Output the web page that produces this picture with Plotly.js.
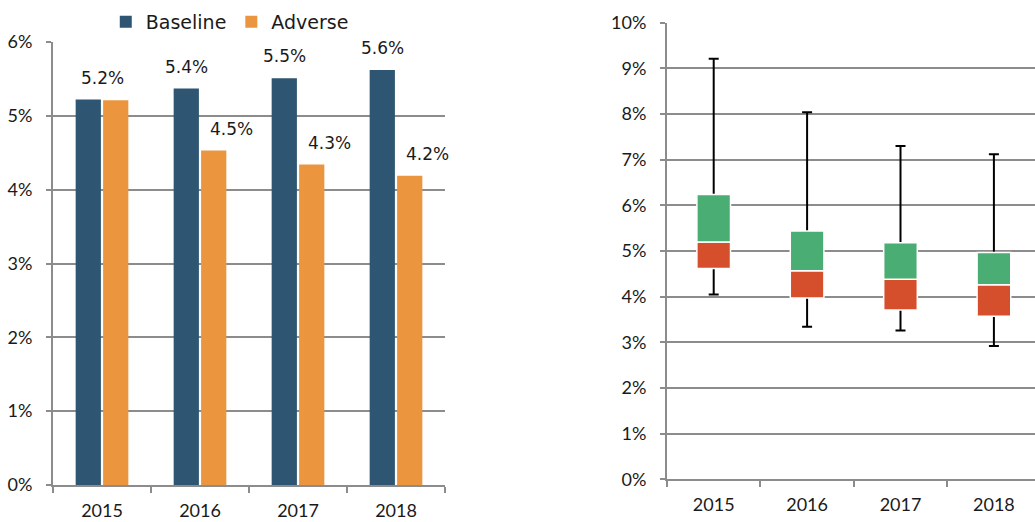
<!DOCTYPE html>
<html>
<head>
<meta charset="utf-8">
<script src="https://cdn.plot.ly/plotly-3.0.1.min.js"></script>
<style>
  html, body { margin: 0; padding: 0; background: #fff; overflow: hidden; }
  #chart { width: 1035px; height: 522px; }
</style>
</head>
<body>
<div id="chart"></div>
<script>
// categories
const years = ['2015', '2016', '2017', '2018'];

// left panel: rate by scenario (%)
const baseline = [5.22, 5.37, 5.51, 5.62];
const adverse = [5.21, 4.53, 4.34, 4.19];

// right panel: distribution (min / lower / median / upper / max, %)
const boxMin = [4.05, 3.34, 3.26, 2.92];
const boxLow = [4.62, 3.97, 3.71, 3.57];
const boxMid = [5.20, 4.57, 4.38, 4.26];
const boxHigh = [6.24, 5.44, 5.18, 4.97];
const boxMax = [9.21, 8.04, 7.30, 7.12];

const colors = {
  baseline: '#2E5571',
  adverse: '#EB963E',
  upper: '#4AAD74',
  lower: '#D64F2D',
  grid: '#8C8C8C',
  text: '#1A1A1A'
};

const tickFont = { family: 'Lato, "Liberation Sans", sans-serif', size: 18, color: colors.text };
const labelFont = { family: '"DejaVu Sans", sans-serif', size: 17, color: colors.text };

const traces = [
  {
    type: 'bar', name: 'Baseline', x: years, y: baseline,
    marker: { color: colors.baseline },
    xaxis: 'x', yaxis: 'y', hoverinfo: 'none'
  },
  {
    type: 'bar', name: 'Adverse', x: years, y: adverse,
    marker: { color: colors.adverse },
    xaxis: 'x', yaxis: 'y', hoverinfo: 'none'
  },
  // whiskers: transparent bar up to the upper box edge, error bars to min / max
  {
    type: 'bar', x: years, y: boxHigh,
    width: 0.36, offset: -0.18,
    marker: { color: 'rgba(0,0,0,0)' },
    error_y: {
      type: 'data', symmetric: false,
      array: boxHigh.map((v, i) => boxMax[i] - v),
      arrayminus: boxHigh.map((v, i) => v - boxMin[i]),
      color: '#000', thickness: 2, width: 5
    },
    xaxis: 'x2', yaxis: 'y2', showlegend: false, hoverinfo: 'none'
  },
  {
    type: 'bar', x: years, base: boxLow,
    y: boxMid.map((v, i) => v - boxLow[i]),
    width: 0.36, offset: -0.18,
    marker: { color: colors.lower, line: { color: '#fff', width: 1.5 } },
    xaxis: 'x2', yaxis: 'y2', showlegend: false, hoverinfo: 'none'
  },
  {
    type: 'bar', x: years, base: boxMid,
    y: boxHigh.map((v, i) => v - boxMid[i]),
    width: 0.36, offset: -0.18,
    marker: { color: colors.upper, line: { color: '#fff', width: 1.5 } },
    xaxis: 'x2', yaxis: 'y2', showlegend: false, hoverinfo: 'none'
  }
];

// data labels above the left bars (x as category index, the year strings look numeric)
const annotations = [];
years.forEach((yr, i) => {
  const base = { x: i, xref: 'x', yref: 'y', showarrow: false, yshift: 22, yanchor: 'middle', font: labelFont };
  if (Math.abs(baseline[i] - adverse[i]) < 0.05) {
    annotations.push({ ...base, y: baseline[i], text: baseline[i].toFixed(1) + '%' });
  } else {
    annotations.push({ ...base, y: baseline[i], xshift: -14, text: baseline[i].toFixed(1) + '%' });
    annotations.push({ ...base, y: adverse[i], xshift: 31, text: adverse[i].toFixed(1) + '%' });
  }
});

const xCommon = {
  type: 'category',
  showline: true, linecolor: colors.grid, linewidth: 2,
  ticks: 'outside', ticklen: 6, tickwidth: 2, tickcolor: colors.grid,
  tickson: 'boundaries',
  showgrid: false, zeroline: false,
  tickfont: tickFont, ticklabelstandoff: 8,
  fixedrange: true
};

const yCommon = {
  showline: true, linecolor: colors.grid, linewidth: 2,
  ticks: 'outside', ticklen: 5, tickwidth: 2, tickcolor: colors.grid,
  showgrid: true, gridcolor: colors.grid, gridwidth: 2,
  zeroline: false, dtick: 1, ticksuffix: '%',
  tickfont: tickFont, ticklabelstandoff: 10,
  fixedrange: true
};

const layout = {
  width: 1035, height: 522,
  margin: { l: 0, r: 0, t: 0, b: 0 },
  paper_bgcolor: '#fff', plot_bgcolor: 'rgba(0,0,0,0)',
  barmode: 'group', bargap: 0.44, bargroupgap: 0.08,
  showlegend: true,
  legend: {
    orientation: 'h', x: 0.222, xanchor: 'center', y: 0.958, yanchor: 'middle',
    font: { family: '"DejaVu Sans", sans-serif', size: 19, color: colors.text },
    itemclick: false, itemdoubleclick: false, traceorder: 'normal'
  },
  xaxis: { ...xCommon, domain: [53 / 1035, 445 / 1035], range: [-0.5, 3.5] },
  yaxis: { ...yCommon, domain: [37 / 522, 480 / 522], range: [0, 6], anchor: 'x' },
  xaxis2: { ...xCommon, domain: [667 / 1035, 1], range: [-0.5, 3.44], anchor: 'y2' },
  yaxis2: { ...yCommon, domain: [42.7 / 522, 499.2 / 522], range: [0, 10], anchor: 'x2' },
  annotations: annotations
};

Plotly.newPlot('chart', traces, layout, { displayModeBar: false, staticPlot: true });
</script>
</body>
</html>
